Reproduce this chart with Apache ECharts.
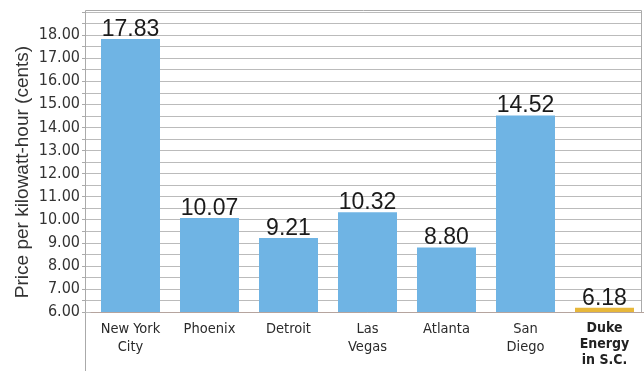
<!DOCTYPE html>
<html><head><meta charset="utf-8">
<script src="https://cdn.jsdelivr.net/npm/echarts@6/dist/echarts.min.js"></script>
<style>html,body{margin:0;padding:0;background:#fff}#c{width:644px;height:371px}</style>
</head><body><div id="c"></div>
<script>
const categories = ['New York\nCity', 'Phoenix', 'Detroit', 'Las\nVegas', 'Atlanta', 'San\nDiego', 'Duke\nEnergy\nin S.C.'];
const prices = [17.83, 10.07, 9.21, 10.32, 8.80, 14.52, 6.18];
const highlightIndex = 6;
const yAxisTitle = 'Price per kilowatt-hour (cents)';

const chart = echarts.init(document.getElementById('c'));
const narrow = "'Liberation Sans Narrow','DejaVu Sans Condensed',sans-serif";
chart.setOption({
  animation: false,
  grid: [
    {left: 85, right: 3, top: 12, bottom: 59},
    {left: 91, right: -2, top: 12, bottom: 59}
  ],
  xAxis: [
    {gridIndex: 0, type: 'category', data: categories, show: false},
    {gridIndex: 1, type: 'category', data: categories,
     axisLine: {show: true, lineStyle: {color: '#b5a49e', width: 1}},
     axisTick: {show: false},
     axisLabel: {interval: 0, margin: 8, color: '#2a2a2a', fontFamily: narrow, fontSize: 14.5, lineHeight: 18,
       formatter: (v, i) => i === highlightIndex ? '{b|' + v.split('\n').join('}\n{b|') + '}' : v,
       rich: {b: {fontWeight: 'bold', fontFamily: narrow, fontSize: 14, lineHeight: 16, color: '#222'}}}}
  ],
  yAxis: [
    {gridIndex: 0, type: 'value', min: 6, max: 19, interval: 0.5,
     axisLine: {show: true, lineStyle: {color: '#aaa'}},
     axisTick: {show: true, length: 3, lineStyle: {color: '#aaa'}},
     splitLine: {show: true, lineStyle: {color: '#bbb', width: 1}},
     axisLabel: {margin: 5, color: '#333', fontFamily: narrow, fontSize: 16,
       formatter: v => (Math.abs(v - Math.round(v)) < 1e-9 && v < 19) ? v.toFixed(2) : ''}},
    {gridIndex: 1, type: 'value', min: 6, max: 19, interval: 0.5, show: false, splitLine: {show: false}}
  ],
  series: [{
    type: 'bar', xAxisIndex: 1, yAxisIndex: 1,
    barWidth: 59,
    data: prices.map((v, i) => ({value: v, itemStyle: {color: i === highlightIndex ? '#e7b73a' : '#6fb4e4'}})),
    label: {show: true, position: 'top', distance: -2, color: '#1a1a1a', fontSize: 23,
      fontFamily: "'Liberation Sans',Arial,sans-serif", formatter: p => p.value.toFixed(2)}
  }],
  graphic: [
    {type: 'line', shape: {x1: 85.5, y1: 10.5, x2: 641.5, y2: 10.5}, style: {stroke: '#aaa', lineWidth: 1}},
    {type: 'line', shape: {x1: 641.5, y1: 10.5, x2: 641.5, y2: 312}, style: {stroke: '#aaa', lineWidth: 1}},
    {type: 'line', shape: {x1: 85.5, y1: 10.5, x2: 85.5, y2: 371}, style: {stroke: '#aaa', lineWidth: 1}},
    {type: 'text', x: 23, y: 172, rotation: Math.PI / 2,
     style: {text: yAxisTitle, fontSize: 19, fontFamily: "'Liberation Sans',Arial,sans-serif", fill: '#333',
       textAlign: 'center', textVerticalAlign: 'middle'}}
  ]
});
</script></body></html>
